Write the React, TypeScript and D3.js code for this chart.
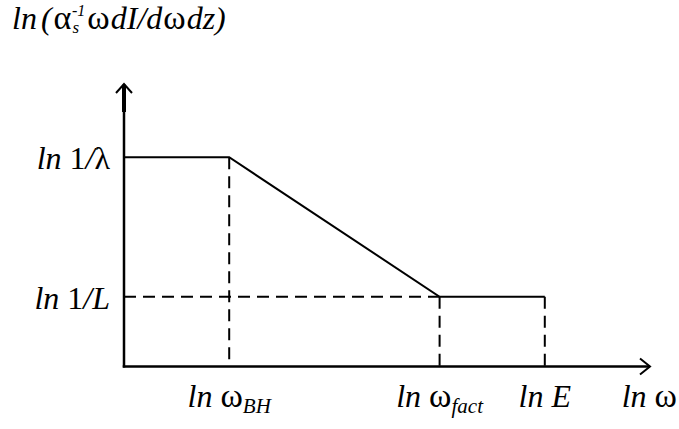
import React from "react";
import * as d3 from "d3";

// Abstract schematic units (ln ω on x, ln spectrum on y)
const xTickValues = [1, 3, 4];
const xTickNames = ["BH", "fact", "E"];
const yTickValues = [3, 1];
const yTickNames = ["λ", "L"];
const spectrumX = [0, 1, 3, 4];
const spectrumY = [3, 3, 1, 1];
const xMax = 5;
const yMax = 4.05;

const W = 679;
const H = 429;
const FF = "Liberation Serif";
const GF = "Liberation Serif";
const FS = 32;
const GS = 32;

export default function App() {
  const x = d3.scaleLinear().domain([0, xMax]).range([124, 650]);
  const y = d3.scaleLinear().domain([0, yMax]).range([366.5, 84]);

  const pts = spectrumX.map((v, i) => [v, spectrumY[i]] as [number, number]);
  const line = d3
    .line<[number, number]>()
    .x((d) => x(d[0]))
    .y((d) => y(d[1]));

  const curveAt = (xv: number) => spectrumY[spectrumX.indexOf(xv)];
  const dash = "12 7";
  const lowY = yTickValues[1];

  const x0 = x(0);
  const y0 = y(0);
  const xEnd = x(xMax);
  const yEnd = y(yMax);

  const G = { fontFamily: GF };

  return (
    <svg
      width={W}
      height={H}
      style={{ position: "fixed", left: 0, top: 0, background: "#fff", fontFamily: FF }}
    >
      <rect width={W} height={H} fill="#fff" />

      {/* title */}
      <text x={12} y={29} fontSize={FS} fill="#000" style={{ fontFamily: FF }}>
        <tspan fontStyle="italic">ln</tspan>
        <tspan fontStyle="italic" dx={4}>(</tspan>
        <tspan fontSize={34} style={G} dx={2}>α</tspan>
        <tspan fontStyle="italic" fontSize={17} dx={1} dy={4}>s</tspan>
        <tspan fontStyle="italic" fontSize={16} dx={-7} dy={-17}>-1</tspan>
        <tspan fontSize={34} style={G} dy={13} dx={2}>ω</tspan>
        <tspan fontStyle="italic" dx={1}>dI/d</tspan>
        <tspan fontSize={34} style={G} dx={1}>ω</tspan>
        <tspan fontStyle="italic" dx={1}>dz)</tspan>
      </text>

      {/* dashed guides */}
      <g stroke="#000" strokeWidth={2} strokeDasharray={dash} fill="none">
        {xTickValues.map((v, i) => (
          <line key={"v" + i} x1={x(v)} x2={x(v)} y1={y(curveAt(v))} y2={y0} />
        ))}
        <line x1={x0} x2={x(spectrumX[2])} y1={y(lowY)} y2={y(lowY)} />
      </g>

      {/* spectrum */}
      <path d={line(pts) || ""} stroke="#000" strokeWidth={2} fill="none" />

      {/* axes */}
      <g stroke="#000" fill="none">
        <line x1={x0} x2={x0} y1={y0 + 1} y2={yEnd} strokeWidth={2.5} />
        <line x1={x0} x2={x0} y1={yEnd + 2} y2={yEnd + 28} strokeWidth={4} />
        <polyline
          points={`${x0 - 8},${yEnd + 9} ${x0},${yEnd} ${x0 + 8},${yEnd + 9}`}
          strokeWidth={2}
        />
        <line x1={x0 - 1.25} x2={xEnd} y1={y0} y2={y0} strokeWidth={2.5} />
        <polyline
          points={`${xEnd - 10},${y0 - 8} ${xEnd},${y0} ${xEnd - 10},${y0 + 8}`}
          strokeWidth={2}
        />
      </g>

      {/* y tick labels */}
      {yTickValues.map((v, i) => (
        <text key={"yl" + i} x={110} y={y(v) + 12} fontSize={FS} textAnchor="end" style={{ fontFamily: FF }}>
          <tspan fontStyle="italic">ln </tspan>
          <tspan>1</tspan>
          <tspan fontStyle="italic">/</tspan>
          {yTickNames[i] === "λ" ? (
            <tspan fontSize={GS} style={G}>λ</tspan>
          ) : (
            <tspan fontStyle="italic">{yTickNames[i]}</tspan>
          )}
        </text>
      ))}

      {/* x tick labels */}
      {xTickValues.map((v, i) => (
        <text key={"xl" + i} x={x(v)} y={407} fontSize={FS} textAnchor="middle" style={{ fontFamily: FF }}>
          <tspan fontStyle="italic">ln </tspan>
          {xTickNames[i] === "E" ? (
            <tspan fontStyle="italic">E</tspan>
          ) : (
            <>
              <tspan fontSize={GS + 2} style={G}>ω</tspan>
              <tspan fontStyle="italic" fontSize={21} dy={6}>
                {xTickNames[i]}
              </tspan>
            </>
          )}
        </text>
      ))}

      {/* x axis label */}
      <text x={677} y={407} fontSize={FS} textAnchor="end" style={{ fontFamily: FF }}>
        <tspan fontStyle="italic">ln </tspan>
        <tspan fontSize={GS + 2} style={G}>ω</tspan>
      </text>
    </svg>
  );
}
